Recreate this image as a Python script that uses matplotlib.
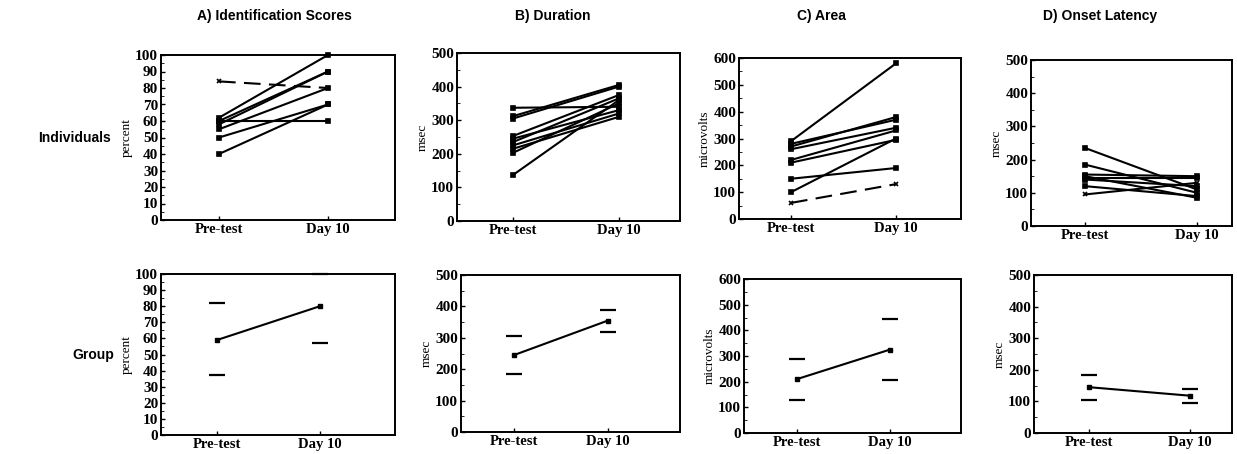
import matplotlib
matplotlib.use("Agg")
from matplotlib import pyplot as plt
from matplotlib.ticker import MultipleLocator

# individual subjects, pre-test and day 10
A_pre = [84, 62, 60, 60, 58, 55, 50, 40]
A_day10 = [80, 100, 90, 60, 90, 80, 70, 70]
B_pre = [337, 312, 305, 253, 245, 235, 225, 215, 203, 137]
B_day10 = [340, 405, 400, 375, 330, 365, 320, 310, 350, 360]
C_pre = [60, 290, 280, 270, 260, 220, 210, 150, 100]
C_day10 = [130, 580, 370, 380, 340, 330, 295, 190, 300]
D_pre = [95, 235, 185, 155, 150, 145, 140, 120]
D_day10 = [130, 110, 100, 150, 85, 145, 120, 90]

# group mean and upper / lower bars
A_mean = [59, 80]; A_hi = [82, 100]; A_lo = [37, 57]
B_mean = [245, 355]; B_hi = [305, 390]; B_lo = [185, 320]
C_mean = [210, 325]; C_hi = [290, 445]; C_lo = [130, 205]
D_mean = [145, 118]; D_hi = [185, 140]; D_lo = [105, 95]

sessions = ["Pre-test", "Day 10"]
titles = ["A) Identification Scores", "B) Duration", "C) Area", "D) Onset Latency"]
ylabels = ["percent", "msec", "microvolts", "msec"]

W, H = 1237, 454
fig = plt.figure(figsize=(W / 100, H / 100), dpi=100)

serif = "Liberation Serif"
sans = ["Liberation Sans Narrow", "Liberation Sans", "DejaVu Sans"]

# pixel boxes: left, top, right, bottom, x of pre-test, x of day 10
top_boxes = [(161, 55, 395, 220, 219, 328), (457, 53, 680, 221, 513, 619),
             (739, 58, 961, 219, 791, 896), (1031, 60, 1232, 226, 1085, 1197)]
bot_boxes = [(161, 274, 395, 435, 217, 320), (461, 275, 680, 432, 514, 608),
             (744, 279, 961, 433, 797, 890), (1034, 275, 1232, 433, 1089, 1190)]
title_x = [274, 553, 821, 1100]
ylims = [(0, 100, 10, 5), (0, 500, 100, 50), (0, 600, 100, 50), (0, 500, 100, 50)]


def make_ax(box, lim, ylab):
    l, t, r, b, p, d = box
    ax = fig.add_axes([l / W, 1 - b / H, (r - l) / W, (b - t) / H])
    ax.set_xlim((l - p) / (d - p), (r - p) / (d - p))
    ax.set_ylim(lim[0], lim[1])
    ax.yaxis.set_major_locator(MultipleLocator(lim[2]))
    ax.yaxis.set_minor_locator(MultipleLocator(lim[3]))
    ax.set_xticks([0, 1])
    ax.set_xticklabels(sessions, fontfamily=serif, fontweight="bold", fontsize=10.5)
    for lab in ax.get_yticklabels():
        lab.set_fontfamily(serif)
        lab.set_fontweight("bold")
        lab.set_fontsize(11)
    ax.tick_params(direction="in", length=3, width=1, pad=2)
    ax.tick_params(which="minor", direction="in", length=2)
    ax.tick_params(axis="x", pad=2)
    for s in ax.spines.values():
        s.set_linewidth(1.4)
    ax.set_ylabel(ylab, fontfamily=serif, fontsize=9.5, labelpad=2)
    return ax


indiv = [(A_pre, A_day10, True), (B_pre, B_day10, False),
         (C_pre, C_day10, True), (D_pre, D_day10, False)]
groups = [(A_mean, A_hi, A_lo), (B_mean, B_hi, B_lo),
          (C_mean, C_hi, C_lo), (D_mean, D_hi, D_lo)]

for i in range(4):
    ax = make_ax(top_boxes[i], ylims[i], ylabels[i])
    pre, d10, first_dashed = indiv[i]
    for k in range(len(pre)):
        dashed = first_dashed and k == 0
        cross = k == 0 and i in (0, 2, 3)
        ax.plot([0, 1], [pre[k], d10[k]], color="black", lw=1.5,
                ls=(0, (8, 4)) if dashed else "-",
                marker="x" if cross else "s", ms=3.5, mew=1.2, clip_on=False)
    fig.text(title_x[i] / W, 1 - 16 / H, titles[i], ha="center", va="center",
             fontfamily=sans, fontweight="bold", fontsize=10)

    ax2 = make_ax(bot_boxes[i], ylims[i], ylabels[i])
    mean, hi, lo = groups[i]
    ax2.plot([0, 1], mean, color="black", lw=1.5, marker="s", ms=3.5, clip_on=False)
    ax2.plot([0, 1], hi, ls="none", color="black", marker="_", ms=12, mew=1.6, clip_on=False)
    ax2.plot([0, 1], lo, ls="none", color="black", marker="_", ms=12, mew=1.6, clip_on=False)

fig.text(38 / W, 1 - 138 / H, "Individuals", fontfamily=sans, fontweight="bold",
         fontsize=10, va="center", ha="left")
fig.text(114 / W, 1 - 355 / H, "Group", fontfamily=sans, fontweight="bold",
         fontsize=10, va="center", ha="right")

fig.savefig("out.png", dpi=100)
